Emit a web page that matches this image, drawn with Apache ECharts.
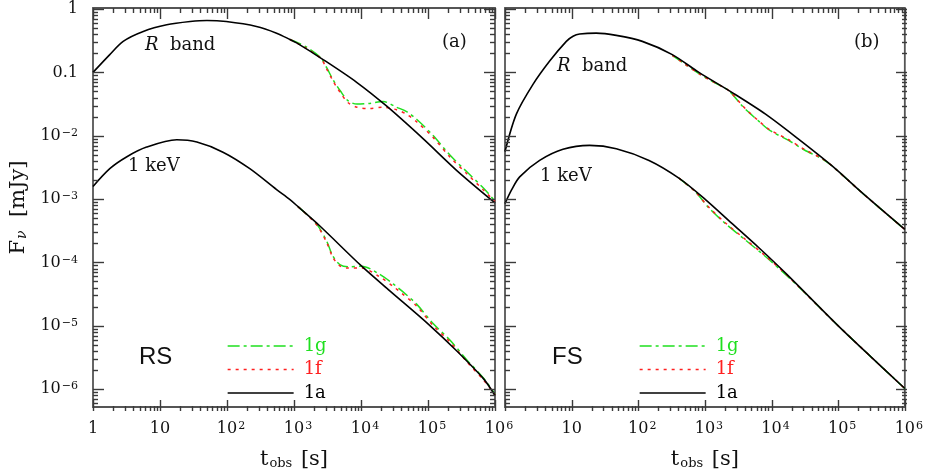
<!DOCTYPE html>
<html><head><meta charset="utf-8">
<script src="https://cdn.jsdelivr.net/npm/echarts@6/dist/echarts.min.js"></script>
<style>html,body{margin:0;padding:0;background:#fff}#c{width:926px;height:475px}</style>
</head><body><div id="c"></div>
<script>
// ---- data: [t_obs (s), F_nu (mJy)] ----
// Panel (a): reverse shock (RS)
const rsR1a = [[1,0.100],[1.78,0.191],[2.82,0.309],[5.62,0.443],[12.6,0.564],[28.2,0.635],[50.1,0.661],[97.7,0.635],[275,0.531],[550,0.417],[871,0.331],[1096,0.292],[2754,0.158],[8710,0.0692],[23990,0.0295],[85110,0.00891],[269200,0.00282],[1e6,0.00087]];
const rsR1g = [[871,0.331],[1479,0.257],[2512,0.170],[3090,0.1175],[3802,0.0776],[4898,0.0513],[6457,0.0355],[8710,0.0316],[13490,0.0324],[21380,0.0347],[33880,0.0282],[47860,0.0240],[67610,0.0182],[120200,0.0100],[213800,0.0049],[380200,0.00269],[676100,0.00148],[1e6,0.00093]];
const rsR1f = [[871,0.331],[1479,0.245],[2512,0.166],[3090,0.112],[3802,0.0741],[4898,0.0479],[6457,0.0331],[8710,0.0282],[13490,0.0269],[21380,0.0282],[33880,0.0257],[47860,0.0219],[67610,0.0166],[120200,0.00933],[213800,0.00457],[380200,0.00251],[676100,0.00138],[1e6,0.00091]];
const rsX1a = [[1,0.00158],[1.78,0.00302],[3.16,0.00462],[6.31,0.00661],[17.8,0.00863],[35.5,0.00794],[87.1,0.00550],[219,0.00302],[550,0.00141],[871,9.77e-4],[1148,7.59e-4],[2455,3.72e-4],[10230,8.71e-5],[26920,3.55e-5],[1e5,1.07e-5],[269200,3.98e-6],[676100,1.445e-6],[1e6,7.9e-7]];
const rsX1g = [[1148,7.59e-4],[2188,3.98e-4],[3090,2.14e-4],[3802,1.26e-4],[4898,9.12e-5],[6457,8.51e-5],[10230,8.71e-5],[19050,6.46e-5],[30200,4.57e-5],[40740,3.55e-5],[67610,2.19e-5],[120200,1.07e-5],[213800,5.89e-6],[380200,2.88e-6],[676100,1.48e-6],[1e6,8.3e-7]];
const rsX1f = [[1148,7.59e-4],[2188,3.89e-4],[3090,2.04e-4],[3802,1.20e-4],[4898,8.71e-5],[6457,8.13e-5],[10230,8.13e-5],[19050,5.89e-5],[30200,4.17e-5],[40740,3.24e-5],[67610,2.04e-5],[120200,1.00e-5],[213800,5.5e-6],[380200,2.69e-6],[676100,1.38e-6],[1e6,8.1e-7]];
// Panel (b): forward shock (FS)
const fsR1a = [[1,0.00562],[1.48,0.0219],[2.63,0.0646],[4.68,0.151],[8.32,0.309],[10.5,0.372],[13.2,0.403],[23.4,0.417],[46.8,0.384],[115,0.309],[324,0.191],[813,0.100],[2570,0.0479],[8130,0.0219],[25120,0.00891],[79430,0.00339],[251200,0.00115],[1e6,3.31e-4]];
const fsR1g = [[324,0.186],[813,0.0955],[1514,0.0661],[2291,0.0513],[3631,0.0295],[4571,0.0234],[6761,0.0162],[9550,0.0120],[17780,0.00851],[31620,0.00589],[56230,0.00437],[79430,0.00339],[251200,0.00115],[1e6,3.31e-4]];
const fsR1f = [[324,0.186],[813,0.0955],[1514,0.0661],[2291,0.0513],[3631,0.0302],[4571,0.0236],[6761,0.0163],[9550,0.0123],[17780,0.00871],[31620,0.00603],[56230,0.00440],[79430,0.00339],[251200,0.00115],[1e6,3.31e-4]];
const fsX1a = [[1,8.51e-4],[1.26,1.41e-3],[1.66,0.00224],[3.31,0.00407],[7.41,0.00610],[18.6,0.00703],[46.8,0.00624],[145,0.00407],[407,0.00214],[1000,1.0e-3],[2512,4.17e-4],[6457,1.70e-4],[16980,6.46e-5],[93330,1.07e-5],[316200,3.16e-6],[1e6,1.02e-6]];
const fsX1g = [[407,0.00214],[708,1.32e-3],[1148,7.24e-4],[1995,4.17e-4],[3981,2.29e-4],[7943,1.26e-4],[16980,6.17e-5],[31620,3.31e-5],[93330,1.07e-5],[316200,3.16e-6],[1e6,1.02e-6]];
const fsX1f = [[407,0.00214],[708,1.32e-3],[1148,7.41e-4],[1995,4.27e-4],[3981,2.34e-4],[7943,1.29e-4],[16980,6.31e-5],[31620,3.31e-5],[93330,1.07e-5],[316200,3.16e-6],[1e6,1.02e-6]];

// tick labels (by decade exponent)
const xTickLabels = ['1','10','10^2','10^3','10^4','10^5','10^6'];            // exponents 0..6
const yTickLabels = ['1','0.1','10^−2','10^−3','10^−4','10^−5','10^−6'];       // exponents 0..-6
const legendNames = ['1g','1f','1a'];
const xRange = [1, 1e6];
const yRange = [5.2e-7, 1.04];

// ---- styles ----
const SERIF = 'DejaVu Serif';
const SANS = 'Liberation Sans';
const AX = '#555';
const TK = '#3a3a3a';
const COL = {'1g':'#1fe01f','1f':'#ff2020','1a':'#000000'};
const DASH = {'1g':[12,4,3,4],'1f':[3,5],'1a':'solid'};
const MAJ = 11, MIN = 5;

function expOf(v){ const e = Math.log10(v); const r = Math.round(e); return Math.abs(e - r) < 1e-6 ? r : null; }
function toRich(s, pad){ const p = s.split('^'); if (p.length === 1) return s; return (pad ? '{p|}' : '') + p[0] + '{s|' + p[1] + '}'; }
function labelRich(){ return {
  s:{fontFamily:SERIF,fontSize:11,lineHeight:11,verticalAlign:'top',color:'#111',padding:[0,0,0,1]},
  p:{width:8,fontSize:11,lineHeight:11}
};}

const gridBoxes = [
  {left:93, top:8, width:402, height:403},
  {left:505, top:8, width:402, height:403}
];
const grids = gridBoxes.map(b => Object.assign({show:true, borderColor:AX, borderWidth:1.8, backgroundColor:'transparent'}, b));

const xAxes = [], yAxes = [];
[0,1].forEach(g => {
  xAxes.push({
    type:'log', logBase:10, gridIndex:g, position:'bottom', min:xRange[0], max:xRange[1],
    axisLine:{show:false, onZero:false}, axisTick:{show:false}, splitLine:{show:false},
    axisLabel:{show:true, margin:14, fontFamily:SERIF, fontSize:16, lineHeight:16, color:'#111', rich:labelRich(),
      formatter: v => { const e = expOf(v); if (e === null || e < 0 || e > 6) return ''; if (g === 1 && e === 0) return ''; return toRich(xTickLabels[e], true); }},
    name:'t{sub|obs} [s]', nameLocation:'middle', nameGap:42,
    nameTextStyle:{fontFamily:SERIF, fontSize:21, color:'#111', lineHeight:21,
      rich:{sub:{fontFamily:SERIF,fontSize:13,lineHeight:13,verticalAlign:'bottom',color:'#111',padding:[0,2,0,1]}}}
  });
  yAxes.push({
    type:'log', logBase:10, gridIndex:g, position:'left', min:yRange[0], max:yRange[1],
    axisLine:{show:false, onZero:false}, axisTick:{show:false}, splitLine:{show:false},
    axisLabel:{show:g === 0, margin:15, fontFamily:SERIF, fontSize:16, lineHeight:16, color:'#111', rich:labelRich(),
      formatter: v => { const e = expOf(v); if (e === null || e > 0 || e < -6) return ''; return toRich(yTickLabels[-e], false); }},
    name: g === 0 ? 'F{sub|ν}  [mJy]' : '', nameLocation:'middle', nameGap:64, nameRotate:90,
    nameTextStyle:{fontFamily:SERIF, fontSize:21, color:'#111', lineHeight:21,
      rich:{sub:{fontFamily:SERIF,fontStyle:'italic',fontSize:14,lineHeight:14,verticalAlign:'bottom',color:'#111',padding:[0,0,0,1]}}}
  });
});

const panelCurves = [
  [[rsR1g,'1g'],[rsR1f,'1f'],[rsR1a,'1a'],[rsX1g,'1g'],[rsX1f,'1f'],[rsX1a,'1a']],
  [[fsR1g,'1g'],[fsR1f,'1f'],[fsR1a,'1a'],[fsX1g,'1g'],[fsX1f,'1f'],[fsX1a,'1a']]
];
const series = [];
panelCurves.forEach((curves, g) => curves.forEach(([data, name]) => series.push({
  type:'line', name, data, xAxisIndex:g, yAxisIndex:g,
  symbol:'none', showSymbol:false, smooth:0.3, clip:true,
  lineStyle:{color:COL[name], width:name === '1a' ? 1.6 : 1.5, type:DASH[name]},
  itemStyle:{color:COL[name]}, z:name === '1a' ? 3 : 2, silent:true
})));

function mkLegend(left){
  return {
    left, top:337, orient:'vertical', padding:0, itemWidth:66, itemHeight:14, itemGap:5.5,
    selectedMode:false,
    itemStyle:{opacity:0, borderWidth:0},
    lineStyle:{width:1.3},
    textStyle:{fontFamily:SERIF, fontSize:18, padding:[0,0,0,5]},
    data: legendNames.map(n => ({name:n, textStyle:{color:COL[n]}}))
  };
}

function txt(x, y, text, opts){
  return {type:'text', x, y, silent:true, z:10, style:Object.assign({
    text, fontFamily:SERIF, fontSize:18, fill:'#111', verticalAlign:'middle', align:'left',
    rich:{i:{fontFamily:SERIF,fontStyle:'italic',fontSize:18,fill:'#111'}}
  }, opts || {})};
}

const texts = [
  txt(145, 45, '{i|R}  band'),
  txt(442, 42, '(a)'),
  txt(128, 166.5, '1 keV'),
  txt(139, 357, 'RS', {fontFamily:SANS, fontSize:24}),
  txt(557, 66.5, '{i|R}  band'),
  txt(854, 42.5, '(b)'),
  txt(540, 176.5, '1 keV'),
  txt(552, 357, 'FS', {fontFamily:SANS, fontSize:24})
];

const chart = echarts.init(document.getElementById('c'), null, {renderer:'canvas'});
chart.setOption({
  animation:false, backgroundColor:'#fff',
  grid:grids, xAxis:xAxes, yAxis:yAxes,
  legend:[mkLegend(227), mkLegend(639)],
  graphic:{elements:texts}, series
});

// ---- tick marks on all four sides, positioned through the axes' own log scales ----
function tickValues(lo, hi){
  const out = [];
  for (let n = Math.floor(Math.log10(lo)) - 1; n <= Math.ceil(Math.log10(hi)); n++)
    for (let k = 1; k <= 9; k++){ const v = k * Math.pow(10, n); if (v >= lo * 0.9999 && v <= hi * 1.0001) out.push([v, k === 1 ? MAJ : MIN]); }
  return out;
}
const tickEls = [];
const X_MID = 1000, Y_MID = 1e-3;
gridBoxes.forEach((b, g) => {
  const finder = {xAxisIndex:g, yAxisIndex:g};
  const L = b.left, R = b.left + b.width, T = b.top, B = b.top + b.height;
  tickValues(xRange[0], xRange[1]).forEach(([v, len]) => {
    const px = Math.round(chart.convertToPixel(finder, [v, Y_MID])[0]) + 0.5;
    tickEls.push({type:'line', silent:true, z:9, shape:{x1:px, y1:B, x2:px, y2:B - len}, style:{stroke:TK, lineWidth:1.4}});
    tickEls.push({type:'line', silent:true, z:9, shape:{x1:px, y1:T, x2:px, y2:T + len}, style:{stroke:TK, lineWidth:1.4}});
  });
  tickValues(yRange[0], yRange[1]).forEach(([v, len]) => {
    const py = Math.round(chart.convertToPixel(finder, [X_MID, v])[1]) + 0.5;
    tickEls.push({type:'line', silent:true, z:9, shape:{x1:L, y1:py, x2:L + len, y2:py}, style:{stroke:TK, lineWidth:1.4}});
    tickEls.push({type:'line', silent:true, z:9, shape:{x1:R, y1:py, x2:R - len, y2:py}, style:{stroke:TK, lineWidth:1.4}});
  });
});
chart.setOption({graphic:{elements:texts.concat(tickEls)}});
</script></body></html>
